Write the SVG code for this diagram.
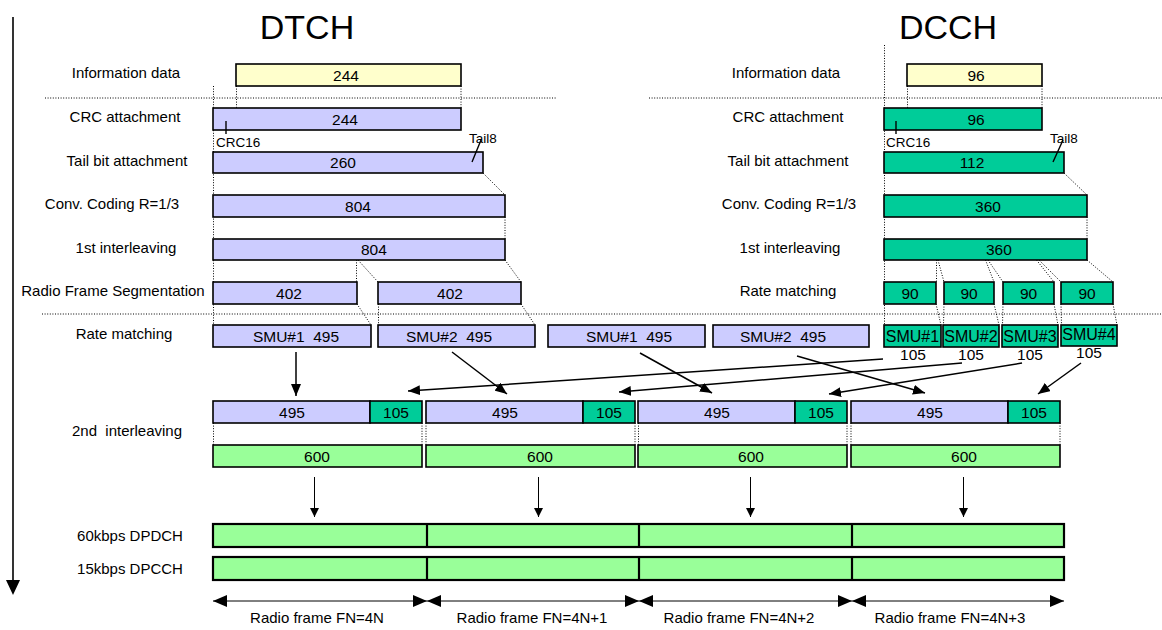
<svg xmlns="http://www.w3.org/2000/svg" width="1162" height="630" viewBox="0 0 1162 630">
<style>
text{font-family:"Liberation Sans",Arial,sans-serif;fill:#000}
.lab{font-size:15px;text-anchor:middle}
.num{font-size:15.5px;text-anchor:middle}
.ttl{font-size:34px;text-anchor:middle}
.sm{font-size:13.5px}
.bl{fill:#CCCCFF;stroke:#000;stroke-width:1.6}
.gr{fill:#00CC99;stroke:#000;stroke-width:1.6}
.ye{fill:#FFFFCC;stroke:#000;stroke-width:1.6}
.lg{fill:#99FF99;stroke:#000;stroke-width:1.6}
.lg2{fill:#99FF99;stroke:#000;stroke-width:2.2}
.dot{stroke:#000;stroke-width:1;stroke-dasharray:1 1.6;fill:none}
.sol{stroke:#000;stroke-width:1.4;fill:none}
.arr{stroke:#000;stroke-width:1.5;fill:none;marker-end:url(#ah)}
.arr2{stroke:#000;stroke-width:1;fill:none;marker-end:url(#ah2)}
.arr3{stroke:#000;stroke-width:1;fill:none;marker-start:url(#ah3s);marker-end:url(#ah3)}
</style>
<defs>
<marker id="ah" markerUnits="userSpaceOnUse" markerWidth="12" markerHeight="10" refX="12" refY="5" orient="auto"><path d="M0,0 L12,5 L0,10 z" fill="#000"/></marker>
<marker id="ah2" markerUnits="userSpaceOnUse" markerWidth="9" markerHeight="9" refX="9" refY="4.5" orient="auto"><path d="M0,0 L9,4.5 L0,9 z" fill="#000"/></marker>
<marker id="ah3" markerUnits="userSpaceOnUse" markerWidth="14" markerHeight="12" refX="14" refY="6" orient="auto"><path d="M0,0 L14,6 L0,12 z" fill="#000"/></marker>
<marker id="ah3s" markerUnits="userSpaceOnUse" markerWidth="14" markerHeight="12" refX="0" refY="6" orient="auto"><path d="M14,0 L0,6 L14,12 z" fill="#000"/></marker>
</defs>

<!-- time axis -->
<g id="axis">
<line x1="13" y1="17" x2="13" y2="582" stroke="#000" stroke-width="1.6"/>
<polygon points="6,580 20,580 13,595" fill="#000"/>
</g>

<!-- titles -->
<text class="ttl" x="307" y="39">DTCH</text>
<text class="ttl" x="948" y="39">DCCH</text>

<!-- row labels -->
<g id="labels">
<text class="lab" x="126" y="78">Information data</text>
<text class="lab" x="125" y="122">CRC attachment</text>
<text class="lab" x="127" y="166">Tail bit attachment</text>
<text class="lab" x="112" y="209">Conv. Coding R=1/3</text>
<text class="lab" x="126" y="253">1st interleaving</text>
<text class="lab" x="113" y="296">Radio Frame Segmentation</text>
<text class="lab" x="124" y="339">Rate matching</text>
<text class="lab" x="127" y="436" xml:space="preserve">2nd  interleaving</text>
<text class="lab" x="130" y="541">60kbps DPDCH</text>
<text class="lab" x="130" y="574">15kbps DPCCH</text>
<text class="lab" x="786" y="78">Information data</text>
<text class="lab" x="788" y="122">CRC attachment</text>
<text class="lab" x="788" y="166">Tail bit attachment</text>
<text class="lab" x="789" y="209">Conv. Coding R=1/3</text>
<text class="lab" x="790" y="253">1st interleaving</text>
<text class="lab" x="788" y="296">Rate matching</text>
</g>

<!-- dotted guide / connector lines -->
<g id="connectors-dotted">
<line class="dot" x1="45" y1="98" x2="556" y2="98"/>
<line class="dot" x1="649" y1="98" x2="1162" y2="98"/>
<line class="dot" x1="42" y1="314" x2="1162" y2="314"/>
<!-- DTCH -->
<line class="dot" x1="213.5" y1="86" x2="213.5" y2="325"/>
<line class="dot" x1="236.5" y1="86" x2="236.5" y2="130"/>
<line class="dot" x1="461" y1="86" x2="461" y2="108"/>
<line class="dot" x1="460.5" y1="152" x2="460.5" y2="173"/>
<line class="dot" x1="483" y1="173" x2="505" y2="195"/>
<line class="dot" x1="505" y1="217" x2="505" y2="239"/>
<line class="dot" x1="356.5" y1="239" x2="356.5" y2="282"/>
<line class="dot" x1="358" y1="260" x2="378" y2="282"/>
<line class="dot" x1="505" y1="260" x2="521" y2="282"/>
<line class="dot" x1="357" y1="304" x2="371" y2="325"/>
<line class="dot" x1="378.5" y1="304" x2="378.5" y2="325"/>
<line class="dot" x1="521" y1="304" x2="535" y2="325"/>
<!-- DCCH -->
<line class="dot" x1="884.5" y1="45" x2="884.5" y2="325"/>
<line class="dot" x1="907.5" y1="86" x2="907.5" y2="130"/>
<line class="dot" x1="1042" y1="86" x2="1042" y2="108"/>
<line class="dot" x1="1041.5" y1="152" x2="1041.5" y2="173"/>
<line class="dot" x1="1064" y1="173" x2="1087" y2="195"/>
<line class="dot" x1="1087" y1="217" x2="1087" y2="239"/>
<line class="dot" x1="936.5" y1="239" x2="936.5" y2="282"/>
<line class="dot" x1="938" y1="260" x2="944" y2="282"/>
<line class="dot" x1="985.5" y1="239" x2="985.5" y2="260"/>
<line class="dot" x1="985.5" y1="260" x2="994" y2="282"/>
<line class="dot" x1="988" y1="260" x2="1003" y2="282"/>
<line class="dot" x1="1036.5" y1="239" x2="1036.5" y2="260"/>
<line class="dot" x1="1036.5" y1="260" x2="1054" y2="282"/>
<line class="dot" x1="1039" y1="260" x2="1061" y2="282"/>
<line class="dot" x1="1087" y1="260" x2="1113" y2="282"/>
<line class="dot" x1="936" y1="304" x2="941" y2="325"/>
<line class="dot" x1="944" y1="304" x2="943.5" y2="325"/>
<line class="dot" x1="994" y1="304" x2="999" y2="325"/>
<line class="dot" x1="1003" y1="304" x2="1002.5" y2="325"/>
<line class="dot" x1="1054" y1="304" x2="1058" y2="325"/>
<line class="dot" x1="1061" y1="304" x2="1061.5" y2="325"/>
<line class="dot" x1="1113" y1="304" x2="1117" y2="325"/>
<!-- 2nd interleaving to 600 -->
<line class="dot" x1="213.5" y1="423" x2="213.5" y2="445"/>
<line class="dot" x1="422" y1="423" x2="422" y2="445"/>
<line class="dot" x1="426" y1="423" x2="426" y2="445"/>
<line class="dot" x1="635" y1="423" x2="635" y2="445"/>
<line class="dot" x1="638.5" y1="423" x2="638.5" y2="445"/>
<line class="dot" x1="847" y1="423" x2="847" y2="445"/>
<line class="dot" x1="851" y1="423" x2="851" y2="445"/>
<line class="dot" x1="1060" y1="423" x2="1060" y2="445"/>
</g>

<!-- DTCH nodes -->
<g id="dtch-info"><rect class="ye" x="236" y="64" width="225" height="22"/><text class="num" x="346" y="80.5">244</text></g>
<g id="dtch-crc"><rect class="bl" x="213" y="108" width="248" height="22"/><text class="num" x="345" y="124.5">244</text>
<line class="sol" x1="226" y1="121" x2="226" y2="134"/><text class="sm" x="216" y="147">CRC16</text></g>
<g id="dtch-tail"><rect class="bl" x="213" y="152" width="270" height="21"/><text class="num" x="343" y="168">260</text>
<line class="sol" x1="481" y1="140" x2="472" y2="162"/><text class="sm" x="469" y="143">Tail8</text></g>
<g id="dtch-conv"><rect class="bl" x="213" y="195" width="292" height="22"/><text class="num" x="358" y="211.5">804</text></g>
<g id="dtch-int1"><rect class="bl" x="213" y="239" width="292" height="21"/><text class="num" x="361" y="255" style="text-anchor:start">804</text></g>
<g id="dtch-seg1"><rect class="bl" x="213" y="282" width="144" height="22"/><text class="num" x="289" y="298.5">402</text></g>
<g id="dtch-seg2"><rect class="bl" x="378" y="282" width="143" height="22"/><text class="num" x="450" y="298.5">402</text></g>
<g id="dtch-smu1a"><rect class="bl" x="213" y="325" width="158" height="22"/><text class="num" x="296" y="341.5" xml:space="preserve">SMU#1  495</text></g>
<g id="dtch-smu2a"><rect class="bl" x="378" y="325" width="157" height="22"/><text class="num" x="449" y="341.5" xml:space="preserve">SMU#2  495</text></g>
<g id="dtch-smu1b"><rect class="bl" x="548" y="325" width="157" height="22"/><text class="num" x="629" y="341.5" xml:space="preserve">SMU#1  495</text></g>
<g id="dtch-smu2b"><rect class="bl" x="713" y="325" width="156" height="22"/><text class="num" x="783" y="341.5" xml:space="preserve">SMU#2  495</text></g>

<!-- DCCH nodes -->
<g id="dcch-info"><rect class="ye" x="907" y="64" width="135" height="22"/><text class="num" x="976" y="80.5">96</text></g>
<g id="dcch-crc"><rect class="gr" x="884" y="108" width="158" height="22"/><text class="num" x="976" y="124.5">96</text>
<line class="sol" x1="896" y1="121" x2="896" y2="134"/><text class="sm" x="886" y="147">CRC16</text></g>
<g id="dcch-tail"><rect class="gr" x="884" y="152" width="180" height="21"/><text class="num" x="972" y="168">112</text>
<line class="sol" x1="1063" y1="140" x2="1053" y2="162"/><text class="sm" x="1050" y="143">Tail8</text></g>
<g id="dcch-conv"><rect class="gr" x="884" y="195" width="203" height="22"/><text class="num" x="988" y="211.5">360</text></g>
<g id="dcch-int1"><rect class="gr" x="884" y="239" width="203" height="21"/><text class="num" x="986" y="255" style="text-anchor:start">360</text></g>
<g id="dcch-rm1"><rect class="gr" x="884" y="282" width="52" height="22"/><text class="num" x="910" y="298.5">90</text></g>
<g id="dcch-rm2"><rect class="gr" x="944" y="282" width="50" height="22"/><text class="num" x="969" y="298.5">90</text></g>
<g id="dcch-rm3"><rect class="gr" x="1003" y="282" width="51" height="22"/><text class="num" x="1028.5" y="298.5">90</text></g>
<g id="dcch-rm4"><rect class="gr" x="1061" y="282" width="52" height="22"/><text class="num" x="1087" y="298.5">90</text></g>
<g id="dcch-smu1"><rect class="gr" x="884" y="325" width="57" height="22"/><text class="num" x="912.5" y="342" style="font-size:16px">SMU#1</text><text class="num" x="913" y="360">105</text></g>
<g id="dcch-smu2"><rect class="gr" x="943" y="325" width="56" height="22"/><text class="num" x="971" y="342" style="font-size:16px">SMU#2</text><text class="num" x="971" y="360">105</text></g>
<g id="dcch-smu3"><rect class="gr" x="1002" y="325" width="56" height="22"/><text class="num" x="1030" y="342" style="font-size:16px">SMU#3</text><text class="num" x="1030" y="360">105</text></g>
<g id="dcch-smu4"><rect class="gr" x="1061" y="325" width="56" height="21"/><text class="num" x="1089" y="340" style="font-size:16px">SMU#4</text><text class="num" x="1089" y="358">105</text></g>

<!-- 2nd interleaving frames -->
<g id="frame1"><rect class="bl" x="213" y="401" width="157" height="22"/><rect class="gr" x="370" y="401" width="52" height="22"/>
<text class="num" x="292" y="417.5">495</text><text class="num" x="396" y="417.5">105</text>
<rect class="lg" x="213" y="445" width="209" height="22"/><text class="num" x="317" y="461.5">600</text></g>
<g id="frame2"><rect class="bl" x="426" y="401" width="157" height="22"/><rect class="gr" x="583" y="401" width="52" height="22"/>
<text class="num" x="505" y="417.5">495</text><text class="num" x="609" y="417.5">105</text>
<rect class="lg" x="426" y="445" width="209" height="22"/><text class="num" x="540" y="461.5">600</text></g>
<g id="frame3"><rect class="bl" x="638" y="401" width="157" height="22"/><rect class="gr" x="795" y="401" width="52" height="22"/>
<text class="num" x="717" y="417.5">495</text><text class="num" x="821" y="417.5">105</text>
<rect class="lg" x="638" y="445" width="209" height="22"/><text class="num" x="751" y="461.5">600</text></g>
<g id="frame4"><rect class="bl" x="851" y="401" width="157" height="22"/><rect class="gr" x="1008" y="401" width="52" height="22"/>
<text class="num" x="930" y="417.5">495</text><text class="num" x="1034" y="417.5">105</text>
<rect class="lg" x="851" y="445" width="209" height="22"/><text class="num" x="964" y="461.5">600</text></g>

<!-- physical channels -->
<g id="dpdch"><rect class="lg2" x="213" y="524" width="851" height="23"/>
<line x1="427" y1="524" x2="427" y2="547" stroke="#000" stroke-width="2.2"/>
<line x1="639" y1="524" x2="639" y2="547" stroke="#000" stroke-width="2.2"/>
<line x1="852" y1="524" x2="852" y2="547" stroke="#000" stroke-width="2.2"/></g>
<g id="dpcch"><rect class="lg2" x="213" y="557" width="851" height="23"/>
<line x1="427" y1="557" x2="427" y2="580" stroke="#000" stroke-width="2.2"/>
<line x1="639" y1="557" x2="639" y2="580" stroke="#000" stroke-width="2.2"/>
<line x1="852" y1="557" x2="852" y2="580" stroke="#000" stroke-width="2.2"/></g>

<!-- arrows -->
<g id="connectors">
<line class="arr" x1="296" y1="352" x2="296" y2="396"/>
<line class="arr" x1="452" y1="352" x2="507" y2="394"/>
<line class="arr" x1="883" y1="359" x2="408" y2="391"/>
<line class="arr" x1="962" y1="363" x2="619" y2="392"/>
<line class="arr" x1="640" y1="353" x2="712" y2="393"/>
<line class="arr" x1="797" y1="356" x2="925" y2="393"/>
<line class="arr" x1="1022" y1="363" x2="829" y2="394"/>
<line class="arr" x1="1081" y1="363" x2="1038" y2="394"/>
<line class="arr2" x1="314.5" y1="477" x2="314.5" y2="517"/>
<line class="arr2" x1="538.5" y1="477" x2="538.5" y2="517"/>
<line class="arr2" x1="750.5" y1="477" x2="750.5" y2="517"/>
<line class="arr2" x1="963.5" y1="477" x2="963.5" y2="517"/>
<line class="arr3" x1="213" y1="601" x2="427" y2="601"/>
<line class="arr3" x1="427" y1="601" x2="639" y2="601"/>
<line class="arr3" x1="639" y1="601" x2="852" y2="601"/>
<line class="arr3" x1="852" y1="601" x2="1064" y2="601"/>
</g>

<g id="frame-labels">
<text class="lab" x="317" y="623">Radio frame FN=4N</text>
<text class="lab" x="532" y="623">Radio frame FN=4N+1</text>
<text class="lab" x="739" y="623">Radio frame FN=4N+2</text>
<text class="lab" x="950" y="623">Radio frame FN=4N+3</text>
</g>
</svg>
